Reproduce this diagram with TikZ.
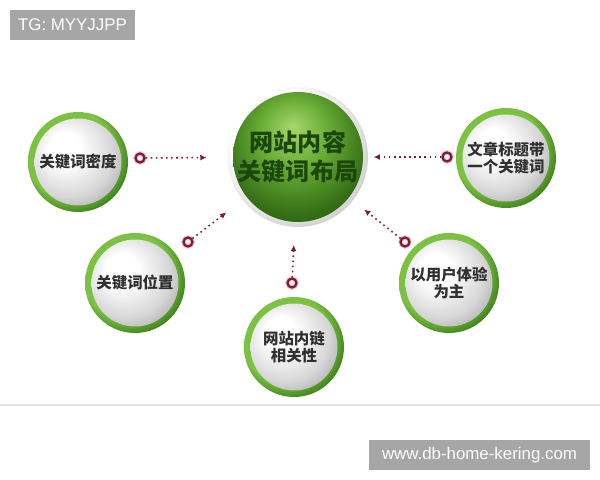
\documentclass[tikz,border=0pt]{standalone}
\usepackage{tikz}
\usetikzlibrary{arrows, arrows.meta}
\usetikzlibrary{positioning}
\usepackage{xcolor}
\usepackage{fontspec}
\setmainfont{Liberation Sans}
\newfontfamily\cjk{Noto Sans CJK SC}

\definecolor{tagGray}{HTML}{A6A6A6}
\definecolor{dotRed}{HTML}{7A1E35}
\definecolor{dotGlow}{HTML}{F4C6D6}
\definecolor{leafText}{HTML}{303030}
\definecolor{hubText}{HTML}{1C470B}
\definecolor{rimLine}{HTML}{E4E4E4}
\definecolor{greenLight}{HTML}{A8D66C}
\definecolor{greenMid}{HTML}{6AAE36}
\definecolor{greenDark}{HTML}{285E0E}
\definecolor{ringLight}{HTML}{7CC242}
\definecolor{ringDark}{HTML}{3C7E1C}

\pgfdeclareradialshading{ballGray}{\pgfpoint{-8bp}{8bp}}{color(0bp)=(white); color(8bp)=(white); color(22bp)=(black!16); color(34bp)=(black!40); color(50bp)=(black!44)}
\pgfdeclareradialshading{ringGreen}{\pgfpoint{-8bp}{8bp}}{color(0bp)=(ringLight); color(22bp)=(ringLight); color(30bp)=(ringDark); color(50bp)=(ringDark)}
\pgfdeclareradialshading{ballGreen}{\pgfpoint{-2bp}{11bp}}{color(0bp)=(greenLight); color(12bp)=(greenMid); color(26bp)=(greenDark!80!greenMid); color(34bp)=(greenDark); color(50bp)=(greenDark)}
\pgfdeclareradialshading{rimGray}{\pgfpoint{-6bp}{6bp}}{color(0bp)=(white); color(20bp)=(white); color(30bp)=(black!22); color(50bp)=(black!25)}

\tikzset{
	hub/.style={circle, inner sep=0pt, minimum size=2.8cm, shading=rimGray,
		path picture={\shade[shading=ballGreen] (path picture bounding box.center) circle (1.3cm);},
		text=hubText, align=center, font=\cjk\bfseries\fontsize{13.7}{16.5}\selectfont},
	leaf/.style={circle, inner sep=0pt, minimum size=2cm, shading=ringGreen,
		path picture={\shade[shading=ballGray] (path picture bounding box.center) circle (0.87cm);},
		text=leafText, align=center, font=\cjk\bfseries\fontsize{8.8}{10}\selectfont},
	dot/.style={circle, inner sep=0pt, minimum size=0.18cm, draw=dotRed, line width=1.3pt,
		preaction={draw=dotGlow, line width=2.6pt}},
	link/.style={dotted, line width=0.9pt, draw=dotRed, -{Latex[length=3.6pt, width=3.4pt]}},
	tag/.style={fill=tagGray, text=white, inner sep=0pt, minimum height=0.6cm,
		font=\fontsize{9.6}{11}\selectfont}
}

\begin{document}
\begin{tikzpicture}[x=0.02cm, y=-0.02cm]
	\useasboundingbox (0,0) rectangle (600,480);
	
	%edge of the photo
	\draw[rimLine, line width=0.8pt] (0,405) -- (600,405);
	
	%spherical objects
	\node[hub] (layout) at (298,157) {网站内容\\关键词布局};
	
	\node[leaf] (density) at (78,162) {关键词密度};
	\node[leaf] (title) at (506,158) {文章标题带\\一个关键词};
	\node[leaf] (place) at (135,283) {关键词位置};
	\node[leaf] (inlink) at (294,347) {网站内链\\相关性};
	\node[leaf] (ux) at (449,283) {以用户体验\\为主};
	
	%small rings
	\node[dot] (dDensity) at (140,158) {};
	\node[dot] (dTitle) at (447,157) {};
	\node[dot] (dPlace) at (188,242) {};
	\node[dot] (dInlink) at (292,283) {};
	\node[dot] (dUx) at (405,242) {};
	
	%arrows
	\draw[link, shorten >=12pt] (dDensity) -- (layout);
	\draw[link, shorten >=3pt] (dTitle) -- (layout);
	\draw[link, shorten >=11.5pt] (dPlace) -- (layout);
	\draw[link, shorten >=10pt] (dInlink) -- (layout);
	\draw[link, shorten >=8pt] (dUx) -- (layout);
	
	%labels
	\node[tag, minimum width=2.5cm] (mark) at (72.5,25) {TG: MYYJJPP};
	\node[tag, minimum width=4.42cm] (site) at (479.5,455) {www.db-home-kering.com};
	
\end{tikzpicture}
\end{document}
